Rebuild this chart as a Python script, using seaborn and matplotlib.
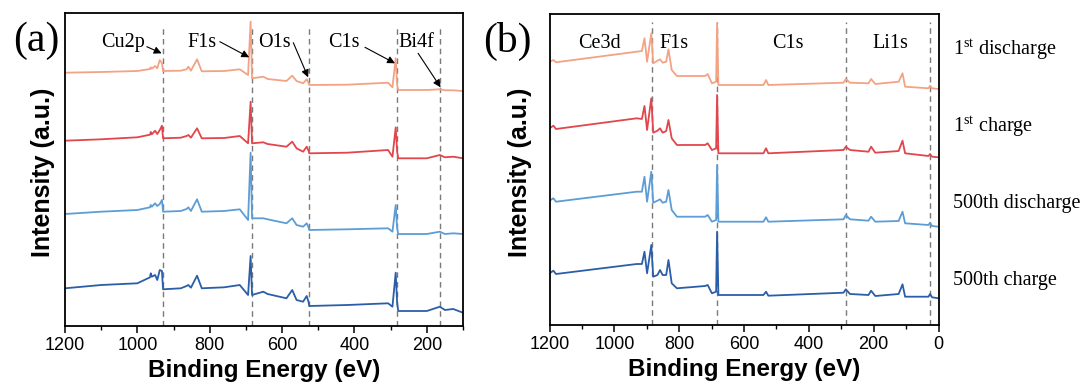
import matplotlib
matplotlib.use('Agg')
import matplotlib.pyplot as plt
from matplotlib.ticker import MultipleLocator
import pandas as pd
import seaborn as sns

# ---------------- data ----------------
series_names = ['1st discharge', '1st charge', '500th discharge', '500th charge']
series_labels = [r'1$^{\mathrm{st}}$ discharge', r'1$^{\mathrm{st}}$ charge',
                 '500th discharge', '500th charge']
colors = ['#F3A383', '#E0464C', '#5C9DD5', '#2B5EA8']

# panel (a)
energy_a = [1200, 1100, 1000, 965, 963, 960, 951, 945, 938, 932, 929, 880, 864, 859,
            852, 835, 822, 760, 717, 694, 687, 683, 652, 640, 588, 572, 560, 542,
            532, 527, 525, 420, 307, 295, 286, 282, 279, 200, 164, 150, 127, 100]
disch1_a = [253.3, 254, 255, 257, 258.7, 257.3, 260, 257.7, 266, 262.7, 255, 255.3,
            256.7, 259.3, 255.3, 266.7, 254.7, 255, 256.7, 251, 304.3, 247.7, 249.3,
            247, 245, 250.3, 245, 242.7, 246.7, 243.3, 241, 241.3, 243.3, 238.7,
            267.7, 241, 236, 236, 236.7, 235.7, 235.7, 235]
charge1_a = [185.3, 186.7, 188.7, 191.3, 194, 191.7, 195.3, 192, 196, 200.3, 187.7,
             188.3, 190, 191, 188.3, 197.7, 187.7, 188, 190, 182.7, 224.3, 182.7,
             183.7, 182, 179.3, 184.3, 177.7, 174.3, 179.3, 175.3, 172.7, 173.3, 176,
             169.3, 198.7, 174.3, 167.7, 167.7, 171, 168.7, 169.3, 167.7]
disch500_a = [112, 114.3, 116, 118.7, 121, 119.3, 122.7, 120, 122, 126, 114.3, 115,
              117, 118.7, 115, 126.7, 114.3, 115, 116.7, 106, 173.3, 107.7, 107.7,
              106.7, 102.7, 107.7, 101, 99.3, 102.7, 98.7, 96, 96.7, 97.7, 94.3, 121,
              97.7, 92, 92, 94.3, 92, 92.7, 92]
charge500_a = [37.7, 41, 42.7, 48.7, 52.7, 49.3, 51, 46, 56, 55, 36.7, 37.7, 40, 41,
               38.3, 50.3, 37.7, 38.7, 41, 31, 70, 31, 34.3, 32, 27.7, 36, 26, 24.3,
               30, 24.3, 20, 21, 22.7, 19.3, 53.3, 22.7, 15, 15, 19.3, 16, 17, 13.3]
peaks_a = ['Cu2p', 'F1s', 'O1s', 'C1s', 'Bi4f']
peak_lines_a = [930, 684, 526, 282, 164]

# panel (b)
energy_b = [1200, 1188, 1180, 931, 915, 907, 899, 886, 880, 867, 859, 851, 840, 833,
            823, 807, 720, 712, 699, 686, 683, 679, 540, 532, 525, 293, 286, 273,
            216, 208, 195, 123, 111, 103, 31, 26, 20, 0]
disch1_b = [263.3, 265, 262.7, 273.3, 274, 286.7, 263.3, 291.7, 261.7, 264.3, 265.7,
            262.3, 263.3, 275.7, 255, 249, 249, 251, 241.7, 243.3, 302, 240, 240,
            245, 240, 242.3, 246, 242.3, 241.7, 246, 241, 243.3, 251.7, 238.3, 236.7,
            239.3, 236.7, 236]
charge1_b = [196.7, 199.3, 196, 206.7, 206, 219, 195, 226.7, 192.3, 194.3, 196.7,
             192.3, 194, 205, 186.7, 180, 180, 181.7, 175, 176.7, 230, 171.7, 171.7,
             176.7, 171.7, 175, 178.3, 175, 173.3, 178.3, 172.3, 174, 184.3, 171.7,
             169, 171, 168.3, 167.7]
disch500_b = [124.3, 126.7, 123.3, 133.3, 133.3, 148.3, 123.3, 153.3, 122.3, 124.3,
              125.7, 122.3, 123.3, 135, 115, 108.3, 108.3, 110, 103.3, 105, 160, 103.3,
              103.3, 107.7, 103.3, 105.7, 110, 105.7, 104.3, 108.3, 103.3, 104, 113.3,
              101.7, 100, 102.3, 99, 98.3]
charge500_b = [51.7, 54.3, 51, 61, 61, 73.3, 51.7, 80, 48.3, 50, 55, 50, 50, 65, 41.7,
               36.7, 39, 40, 31.7, 33.3, 93.3, 30, 30, 33.3, 29.3, 32.3, 35.7, 31, 30,
               34.3, 29, 31, 40.7, 28.3, 28.3, 31, 27.7, 26.7]
peaks_b = ['Ce3d', 'F1s', 'C1s', 'Li1s']
peak_lines_b = [885, 684, 286, 26]

xticks_major = 200
xticks_minor = 100


def make_df(energy, series_values):
    rows = []
    for name, vals in zip(series_names, series_values):
        for e, v in zip(energy, vals):
            rows.append({'energy': e, 'intensity': v, 'series': name})
    return pd.DataFrame(rows)


df_a = make_df(energy_a, [disch1_a, charge1_a, disch500_a, charge500_a])
df_b = make_df(energy_b, [disch1_b, charge1_b, disch500_b, charge500_b])

# ---------------- style ----------------
sns.set_style('ticks')
plt.rcParams['font.family'] = ['Liberation Sans', 'DejaVu Sans']
plt.rcParams['mathtext.fontset'] = 'custom'
plt.rcParams['mathtext.rm'] = 'Liberation Serif'
plt.rcParams['mathtext.it'] = 'Liberation Serif:italic'
plt.rcParams['text.color'] = 'black'
plt.rcParams['axes.labelcolor'] = 'black'
plt.rcParams['xtick.color'] = 'black'
plt.rcParams['xtick.labelcolor'] = 'black'

serif = ['Liberation Serif', 'DejaVu Serif']

fig = plt.figure(figsize=(10.85, 3.85), dpi=100)
ax_a = fig.add_axes([65 / 1085, 59 / 385, 398 / 1085, 313 / 385])
ax_b = fig.add_axes([549.5 / 1085, 60 / 385, 389 / 1085, 311 / 385])


def style_axis(ax, xlim, ylim, ylab_x):
    ax.set_xlim(*xlim)
    ax.set_ylim(*ylim)
    ax.set_yticks([])
    ax.xaxis.set_major_locator(MultipleLocator(xticks_major))
    ax.xaxis.set_minor_locator(MultipleLocator(xticks_minor))
    ax.tick_params(axis='x', which='major', direction='out', length=5, width=1.1,
                   labelsize=13, pad=3, colors='black')
    ax.tick_params(axis='x', which='minor', direction='out', length=3, width=1.0,
                   colors='black')
    for sp in ax.spines.values():
        sp.set_visible(True)
        sp.set_linewidth(1.3)
        sp.set_color('black')
    ax.set_xlabel('Binding Energy (eV)', fontsize=17.5, fontweight='bold',
                  color='black')
    ax.xaxis.set_label_coords(0.5, -0.105)
    ax.set_ylabel('Intensity (a.u.)', fontsize=18, fontweight='bold', color='black')
    ax.yaxis.set_label_coords(ylab_x, 0.49)


for ax, df, lines, xlim, ylim, dtop, ylx in [
        (ax_a, df_a, peak_lines_a, (1200, 100), (0, 313), 0.952, -0.025),
        (ax_b, df_b, peak_lines_b, (1200, 0), (0, 311), 0.975, -0.045)]:
    for e in lines:
        ax.axvline(e, ymin=0, ymax=dtop, color='#7a7a7a', lw=1.0,
                   ls=(0, (4, 3)), zorder=1)
    sns.lineplot(data=df, x='energy', y='intensity', hue='series',
                 hue_order=series_names, palette=colors, estimator=None,
                 sort=False, legend=False, linewidth=1.3, ax=ax, zorder=2)
    style_axis(ax, xlim, ylim, ylx)

# peak labels panel (a)
label_xy_a = [(1039, 283), (820, 283), (621, 283), (429, 283), (228, 283)]
arrow_tail_a = [(974, 279.3), (772, 284.3), (569, 283.3), (371, 278.7), (224, 272.7)]
arrow_tip_a = [(933, 272.7), (691, 268.7), (528, 248.7), (288, 262.7), (162, 238.7)]
for name, (lx, ly), tail, tip in zip(peaks_a, label_xy_a, arrow_tail_a, arrow_tip_a):
    ax_a.text(lx, ly, name, family=serif, fontsize=14.5, ha='center', va='center',
              color='black')
    ax_a.annotate('', xy=tip, xytext=tail,
                  arrowprops=dict(arrowstyle='-|>', color='black', lw=0.8,
                                  mutation_scale=11, shrinkA=0, shrinkB=0))

# peak labels panel (b)
label_xy_b = [(1047, 282), (817, 282), (464, 282), (149, 282)]
for name, (lx, ly) in zip(peaks_b, label_xy_b):
    ax_b.text(lx, ly, name, family=serif, fontsize=14.5, ha='center', va='center',
              color='black')

# series labels to the right of panel (b)
for lab, yy in zip(series_labels, [50, 126.7, 203.3, 280]):
    fig.text(953 / 1085, 1 - yy / 385, lab, family=serif, fontsize=14.5,
             ha='left', va='center', color='black')

fig.text(36 / 1085, 1 - 41 / 385, '(a)', family=serif, fontsize=30,
         ha='center', va='center', color='black')
fig.text(507 / 1085, 1 - 41 / 385, '(b)', family=serif, fontsize=30,
         ha='center', va='center', color='black')

fig.savefig('out.png', dpi=100)
